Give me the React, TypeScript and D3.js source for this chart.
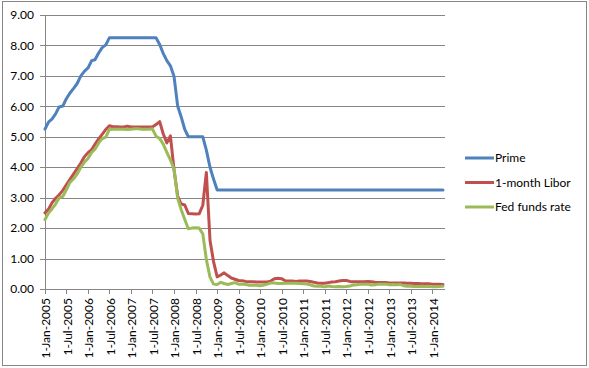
import { useEffect, useRef } from 'react';
import * as d3 from 'd3';

// monthly values, Jan 2005 .. Apr 2014
const startMonth = new Date(Date.UTC(2005, 0, 1));
const endMonth = new Date(Date.UTC(2014, 3, 1));

const prime = [
  5.25, 5.49, 5.58, 5.75, 5.98, 6.01, 6.25, 6.44, 6.59, 6.75, 7.0, 7.15,
  7.26, 7.5, 7.53, 7.75, 7.93, 8.02, 8.25, 8.25, 8.25, 8.25, 8.25, 8.25,
  8.25, 8.25, 8.25, 8.25, 8.25, 8.25, 8.25, 8.25, 8.03, 7.74, 7.5, 7.33,
  6.98, 6.0, 5.66, 5.24, 5.0, 5.0, 5.0, 5.0, 5.0, 4.56, 4.0, 3.61,
  3.25, 3.25, 3.25, 3.25, 3.25, 3.25, 3.25, 3.25, 3.25, 3.25, 3.25, 3.25,
  3.25, 3.25, 3.25, 3.25, 3.25, 3.25, 3.25, 3.25, 3.25, 3.25, 3.25, 3.25,
  3.25, 3.25, 3.25, 3.25, 3.25, 3.25, 3.25, 3.25, 3.25, 3.25, 3.25, 3.25,
  3.25, 3.25, 3.25, 3.25, 3.25, 3.25, 3.25, 3.25, 3.25, 3.25, 3.25, 3.25,
  3.25, 3.25, 3.25, 3.25, 3.25, 3.25, 3.25, 3.25, 3.25, 3.25, 3.25, 3.25,
  3.25, 3.25, 3.25, 3.25,
];

const libor = [
  2.5, 2.63, 2.83, 2.98, 3.09, 3.24, 3.42, 3.6, 3.78, 3.96, 4.14, 4.34,
  4.48, 4.58, 4.75, 4.93, 5.08, 5.24, 5.36, 5.33, 5.33, 5.32, 5.32, 5.35,
  5.32, 5.32, 5.32, 5.32, 5.32, 5.32, 5.32, 5.4, 5.5, 5.1, 4.8, 5.03,
  3.91, 3.05, 2.79, 2.76, 2.48, 2.47, 2.46, 2.47, 2.75, 3.83, 1.6, 0.9,
  0.4, 0.46, 0.53, 0.44, 0.36, 0.32, 0.28, 0.27, 0.25, 0.24, 0.24, 0.23,
  0.23, 0.23, 0.23, 0.26, 0.34, 0.35, 0.34, 0.27, 0.26, 0.26, 0.25, 0.26,
  0.26, 0.26, 0.25, 0.22, 0.2, 0.19, 0.19, 0.21, 0.23, 0.24, 0.26, 0.28,
  0.28, 0.25, 0.24, 0.24, 0.24, 0.24, 0.25, 0.24, 0.22, 0.21, 0.21, 0.21,
  0.2, 0.2, 0.2, 0.2, 0.2, 0.19, 0.19, 0.18, 0.18, 0.17, 0.17, 0.17,
  0.16, 0.16, 0.16, 0.15,
];

const fedFunds = [
  2.28, 2.5, 2.63, 2.79, 3.0, 3.04, 3.26, 3.5, 3.62, 3.78, 4.0, 4.16,
  4.29, 4.49, 4.59, 4.79, 4.94, 4.99, 5.24, 5.25, 5.25, 5.25, 5.25, 5.24,
  5.25, 5.26, 5.26, 5.25, 5.25, 5.25, 5.26, 5.02, 4.94, 4.76, 4.49, 4.24,
  3.94, 2.98, 2.61, 2.28, 1.98, 2.0, 2.01, 2.0, 1.81, 0.97, 0.39, 0.16,
  0.15, 0.22, 0.18, 0.15, 0.18, 0.21, 0.16, 0.16, 0.15, 0.12, 0.12, 0.12,
  0.11, 0.13, 0.16, 0.2, 0.2, 0.18, 0.18, 0.19, 0.19, 0.19, 0.19, 0.18,
  0.17, 0.16, 0.14, 0.1, 0.09, 0.09, 0.07, 0.1, 0.08, 0.07, 0.08, 0.07,
  0.08, 0.1, 0.13, 0.14, 0.16, 0.16, 0.16, 0.13, 0.14, 0.16, 0.16, 0.16,
  0.14, 0.15, 0.14, 0.15, 0.11, 0.09, 0.09, 0.08, 0.08, 0.09, 0.08, 0.09,
  0.07, 0.07, 0.08, 0.09,
];

const seriesNames = ['Prime', '1-month Libor', 'Fed funds rate'];
const seriesColors = ['#4F81BD', '#C0504D', '#9BBB59'];
const yTicks = [0, 1, 2, 3, 4, 5, 6, 7, 8, 9];

const W = 589;
const H = 368;
const FONT = 'Lato, "Open Sans", sans-serif';

const App = () => {
  const svgRef = useRef<SVGSVGElement>(null);

  useEffect(() => {
    if (!svgRef.current) return;
    const svg = d3.select(svgRef.current);
    svg.selectAll('*').remove();

    const months = d3.utcMonth.range(startMonth, d3.utcMonth.offset(endMonth, 1));

    const x = d3.scaleUtc().domain([startMonth, endMonth]).range([45, 443]);
    const y = d3.scaleLinear().domain([0, 9]).range([289, 15]);

    // chart border
    svg.append('rect')
      .attr('x', 2.5).attr('y', 1.5)
      .attr('width', 584).attr('height', 364)
      .attr('fill', 'white')
      .attr('stroke', '#868686')
      .attr('stroke-width', 1);

    // gridlines + y ticks
    svg.append('g')
      .selectAll('line')
      .data(yTicks)
      .enter()
      .append('line')
      .attr('x1', 40).attr('x2', 445)
      .attr('y1', d => Math.round(y(d)) + 0.5)
      .attr('y2', d => Math.round(y(d)) + 0.5)
      .attr('stroke', '#868686')
      .attr('stroke-width', 1);

    svg.append('g')
      .selectAll('text')
      .data(yTicks)
      .enter()
      .append('text')
      .attr('x', 34)
      .attr('y', d => y(d))
      .attr('dy', '0.35em')
      .attr('text-anchor', 'end')
      .style('font-family', FONT)
      .style('font-size', '12px')
      .attr('fill', '#000')
      .text(d => d.toFixed(2));

    // y axis line
    svg.append('line')
      .attr('x1', 45.5).attr('x2', 45.5)
      .attr('y1', y(9)).attr('y2', y(0))
      .attr('stroke', '#868686');

    // x ticks every 6 months
    const xTicks = d3.utcMonth.every(6)!.range(startMonth, d3.utcMonth.offset(endMonth, 1));
    const fmt = d3.utcFormat('%-d-%b-%Y');

    svg.append('g')
      .selectAll('line')
      .data(xTicks)
      .enter()
      .append('line')
      .attr('x1', d => Math.round(x(d)) + 0.5)
      .attr('x2', d => Math.round(x(d)) + 0.5)
      .attr('y1', y(0)).attr('y2', y(0) + 5)
      .attr('stroke', '#868686');

    svg.append('g')
      .selectAll('text')
      .data(xTicks)
      .enter()
      .append('text')
      .attr('transform', d => `translate(${x(d) + 1},${y(0) + 9}) rotate(-90)`)
      .attr('text-anchor', 'end')
      .attr('dy', '0.35em')
      .style('font-family', FONT)
      .style('font-size', '12px')
      .attr('fill', '#000')
      .text(d => fmt(d));

    const series = [prime, libor, fedFunds];
    const line = d3.line<number>()
      .x((_, i) => x(months[i]))
      .y(d => y(d));

    // series drawn in order, later ones on top (like excel)
    series.forEach((vals, k) => {
      svg.append('path')
        .datum(vals)
        .attr('d', line)
        .attr('fill', 'none')
        .attr('stroke', seriesColors[k])
        .attr('stroke-width', 3)
        .attr('stroke-linejoin', 'round')
        .attr('stroke-linecap', 'round');
    });

    // legend
    const legend = svg.append('g');
    seriesNames.forEach((name, i) => {
      const ly = 158 + i * 24.5;
      legend.append('line')
        .attr('x1', 465).attr('x2', 494)
        .attr('y1', ly).attr('y2', ly)
        .attr('stroke', seriesColors[i])
        .attr('stroke-width', 3);
      legend.append('text')
        .attr('x', 495)
        .attr('y', ly)
        .attr('dy', '0.35em')
        .style('font-family', FONT)
        .style('font-size', '12px')
        .attr('fill', '#000')
        .text(name);
    });
  }, []);

  return (
    <svg
      ref={svgRef}
      width={W}
      height={H}
      style={{ position: 'absolute', left: 0, top: 0, display: 'block' }}
    />
  );
};

export default App;
